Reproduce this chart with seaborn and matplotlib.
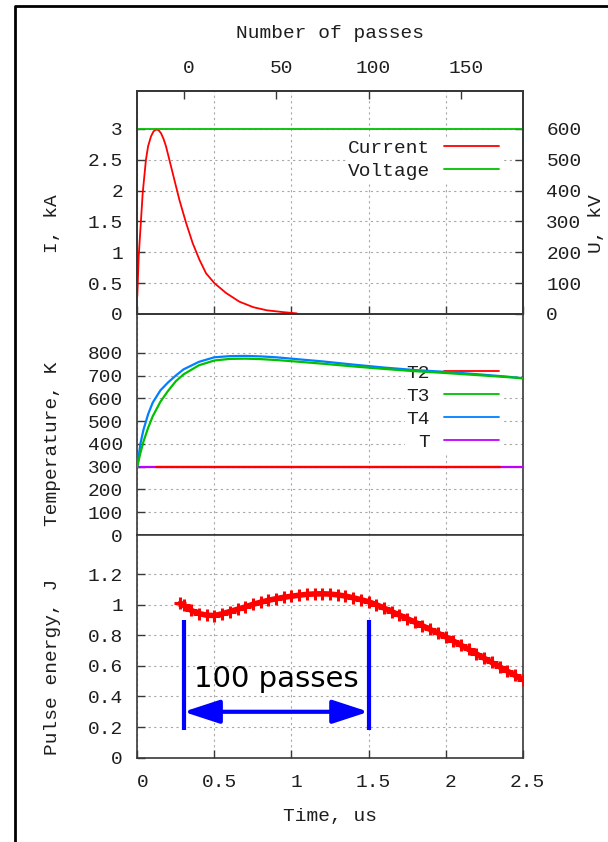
import matplotlib
matplotlib.use("Agg")
import matplotlib.pyplot as plt
from matplotlib.lines import Line2D
from matplotlib.patches import ArrowStyle
from matplotlib.transforms import ScaledTranslation
import seaborn as sns

# ---------------- data ----------------
# Discharge current, kA
current_time = [0.0, 0.009, 0.035, 0.056, 0.07, 0.089, 0.105, 0.121, 0.138, 0.154, 0.17,
                0.186, 0.205, 0.229, 0.273, 0.316, 0.359, 0.403, 0.446, 0.5, 0.576,
                0.662, 0.753, 0.84, 0.948, 1.035]
current_ka = [0.29, 0.93, 1.96, 2.50, 2.72, 2.88, 2.96, 2.99, 2.98, 2.93, 2.84,
              2.72, 2.53, 2.29, 1.85, 1.48, 1.15, 0.88, 0.66, 0.50, 0.34,
              0.20, 0.11, 0.06, 0.03, 0.01]

# Charging voltage, kV
voltage_time = [0.0, 2.5]
voltage_kv = [600, 600]

# Gas temperatures, K
temp_time = [0.0, 0.02, 0.04, 0.07, 0.1, 0.15, 0.2, 0.25, 0.3, 0.4, 0.5, 0.6,
             0.7, 0.8, 0.9, 1.0, 1.2, 1.4, 1.6, 1.8, 2.0, 2.2, 2.4, 2.5]
t3_k = [300, 360, 410, 470, 521, 585, 633, 675, 705, 745, 766, 773,
        774, 772, 768, 763, 752, 740, 729, 719, 711, 702, 693, 688]
t4_k = [300, 400, 462, 530, 581, 635, 670, 700, 727, 760, 780, 785,
        786, 784, 780, 774, 762, 748, 735, 724, 716, 706, 695, 688]
t2_time = [0.12, 2.35]
t2_k = [300, 300]
t_time = [0.0, 2.5]
t_k = [300, 300]

# Output pulse energy, J
energy_time = [0.28, 0.30, 0.35, 0.40, 0.45, 0.50, 0.55, 0.60, 0.65, 0.70, 0.75,
               0.80, 0.85, 0.90, 0.95, 1.00, 1.05, 1.10, 1.15, 1.20, 1.25, 1.30,
               1.35, 1.40, 1.45, 1.50, 1.55, 1.60, 1.65, 1.70, 1.75, 1.80, 1.85,
               1.90, 1.95, 2.00, 2.05, 2.10, 2.15, 2.20, 2.25, 2.30, 2.35, 2.40,
               2.45, 2.50]
energy_j = [1.010, 0.995, 0.962, 0.942, 0.931, 0.929, 0.940, 0.955, 0.970, 0.985, 1.002,
            1.016, 1.028, 1.039, 1.048, 1.055, 1.062, 1.067, 1.070, 1.071, 1.069, 1.064,
            1.056, 1.045, 1.033, 1.019, 1.000, 0.978, 0.955, 0.932, 0.909, 0.886, 0.862,
            0.838, 0.814, 0.790, 0.763, 0.735, 0.707, 0.678, 0.650, 0.622, 0.594, 0.566,
            0.538, 0.510]

# Round-trip timing: pass number n occurs at pass_origin_us + n * pass_period_us
pass_origin_us = 0.3
pass_period_us = 0.012
span_passes = 100

# Axis ticks
time_ticks = [0, 0.5, 1, 1.5, 2, 2.5]
pass_ticks = [0, 50, 100, 150]
current_ticks = [0, 0.5, 1, 1.5, 2, 2.5, 3]
voltage_ticks = [0, 100, 200, 300, 400, 500, 600]
temp_ticks = [0, 100, 200, 300, 400, 500, 600, 700, 800]
energy_ticks = [0, 0.2, 0.4, 0.6, 0.8, 1, 1.2]

# ---------------- style ----------------
sns.set_style("white")
plt.rcParams["font.family"] = ["Liberation Mono", "DejaVu Sans Mono"]
plt.rcParams["font.size"] = 14

ink = "#1e1e1e"
frame = "#383838"
red, green, blue, magenta = "#ff0000", "#00c000", "#0080ff", "#c000ff"
grid_kw = dict(color="#a8a8a8", linestyle=(0, (2.0, 3.0)), linewidth=0.8)

W, H = 608, 842
fig = plt.figure(figsize=(W / 100, H / 100), dpi=100)


def panel(top, bottom):
    return [137.3 / W, 1 - bottom / H, 385.4 / W, (bottom - top) / H]


ax1 = fig.add_axes(panel(90.7, 314))
ax2 = fig.add_axes(panel(314, 535))
ax3 = fig.add_axes(panel(535, 757.7))

for ax in (ax1, ax2, ax3):
    ax.set_xlim(0, 2.5)
    ax.set_xticks(time_ticks)
    ax.grid(True, **grid_kw)
    ax.set_axisbelow(True)
    for s in ax.spines.values():
        s.set_color(frame)
        s.set_linewidth(1.2)
    ax.tick_params(direction="in", length=5.5, width=1.0, color=frame,
                   labelcolor=ink, labelsize=14)
    ax.tick_params(axis="y", pad=10.3, left=True, right=False)

for ax in (ax1, ax2):
    ax.tick_params(axis="x", bottom=False, labelbottom=False)
ax3.tick_params(axis="x", bottom=True, pad=12)

# ---- panel 1: current & voltage ----
i_top = 3.62
ax1.set_ylim(0, i_top)
ax1.set_yticks(current_ticks)
ax1.set_yticklabels(["0", "0.5", "1", "1.5", "2", "2.5", "3"])
sns.lineplot(x=current_time, y=current_ka, ax=ax1, color=red, lw=1.3,
             estimator=None, sort=False, zorder=3)

axv = ax1.twinx()
axv.set_ylim(0, i_top * voltage_ticks[-1] / current_ticks[-1])
axv.set_yticks(voltage_ticks)
axv.tick_params(direction="in", length=5.5, width=1.0, color=frame,
                labelcolor=ink, labelsize=14, pad=17)
for s in axv.spines.values():
    s.set_color(frame)
    s.set_linewidth(1.2)
sns.lineplot(x=voltage_time, y=voltage_kv, ax=axv, color=green, lw=1.3,
             estimator=None, sort=False, zorder=3)
axv.set_ylabel("U, kV", fontsize=14, color=ink, rotation=90)
axv.yaxis.set_label_coords((597 - 137.3) / 385.4, 0.403)
axv.yaxis.label.set_verticalalignment("center")

axp = ax1.twiny()
axp.set_xlim((0 - pass_origin_us) / pass_period_us, (2.5 - pass_origin_us) / pass_period_us)
axp.set_xticks(pass_ticks)
axp.tick_params(direction="in", length=5.5, width=1.0, color=frame,
                labelcolor=ink, labelsize=14, pad=10)
for s in axp.spines.values():
    s.set_color(frame)
    s.set_linewidth(1.2)
axp.set_xlabel("Number of passes", fontsize=14, color=ink)
axp.xaxis.set_label_coords(0.5, 1 + (90.7 - 33) / 223.3)
axp.xaxis.label.set_verticalalignment("center")

leg_kw = dict(markerfirst=False, frameon=True, framealpha=1, fancybox=False,
              edgecolor="none", facecolor="white", borderpad=0.1, borderaxespad=0,
              handlelength=2.83, handletextpad=0.72, labelspacing=0.28, fontsize=14)
h1 = [Line2D([], [], color=red, lw=1.3), Line2D([], [], color=green, lw=1.3)]
leg1 = ax1.legend(h1, ["Current", "Voltage"], loc="upper right",
                  bbox_to_anchor=((501 - 137.3) / 385.4, 0.791), **leg_kw)
leg1.set_zorder(2.5)
for t in leg1.get_texts():
    t.set_color(ink)

ax1.set_ylabel("I, kA", fontsize=14, color=ink)

# ---- panel 2: temperatures ----
ax2.set_ylim(0, 970)
ax2.set_yticks(temp_ticks)
sns.lineplot(x=t_time, y=t_k, ax=ax2, color=magenta, lw=1.6,
             estimator=None, sort=False, zorder=3)
sns.lineplot(x=t2_time, y=t2_k, ax=ax2, color=red, lw=1.6,
             estimator=None, sort=False, zorder=3)
sns.lineplot(x=temp_time, y=t4_k, ax=ax2, color=blue, lw=1.6,
             estimator=None, sort=False, zorder=3)
sns.lineplot(x=temp_time, y=t3_k, ax=ax2, color=green, lw=1.6,
             estimator=None, sort=False, zorder=3)
h2 = [Line2D([], [], color=c, lw=1.3) for c in (red, green, blue, magenta)]
leg2 = ax2.legend(h2, ["T2", "T3", "T4", "T"], loc="upper right",
                  bbox_to_anchor=((501 - 137.3) / 385.4, 0.781), **leg_kw)
leg2.set_zorder(2.5)
for t in leg2.get_texts():
    t.set_color(ink)
ax2.set_ylabel("Temperature, K", fontsize=14, color=ink)

# ---- panel 3: pulse energy ----
ax3.set_ylim(0, 1.455)
ax3.set_yticks(energy_ticks)
ax3.set_yticklabels(["0", "0.2", "0.4", "0.6", "0.8", "1", "1.2"])
ax3.set_xticklabels(["0", "0.5", "1", "1.5", "2", "2.5"])
sns.lineplot(x=energy_time, y=energy_j, ax=ax3, color=red, lw=4.0,
             marker="+", markersize=8, markeredgewidth=2.2, markeredgecolor=red,
             estimator=None, sort=False, zorder=3)
ax3.set_ylabel("Pulse energy, J", fontsize=14, color=ink)
ax3.set_xlabel("Time, us", fontsize=14, color=ink)

# span of 100 round trips
span_start = pass_origin_us
span_end = pass_origin_us + span_passes * pass_period_us
bar_low, bar_high, arrow_y = 0.18, 0.9, 0.3
ax3.vlines([span_start, span_end], bar_low, bar_high, color="#0000ff", lw=3, zorder=4)
ax3.annotate("", xy=(span_start, arrow_y), xytext=(span_end, arrow_y),
             arrowprops=dict(arrowstyle=ArrowStyle("<|-|>", head_length=1.1, head_width=0.36),
                             color="#0000ff", lw=3, shrinkA=0, shrinkB=0,
                             mutation_scale=20),
             zorder=4)
ax3.text((span_start + span_end) / 2, 0.462, f"{span_passes} passes",
         family="DejaVu Sans", fontsize=21, color="black",
         ha="center", va="baseline", zorder=4)

# y-label placement, shared across panels
for ax, yc in ((ax1, 0.403), (ax2, 0.413), (ax3, 0.409)):
    ax.yaxis.set_label_coords((53 - 137.3) / 385.4, yc)
    ax.yaxis.label.set_verticalalignment("center")

ax3.xaxis.set_label_coords(0.5, -(816.7 - 757.7) / 222.7)
ax3.xaxis.label.set_verticalalignment("center")

# nudge horizontal tick labels slightly right
shift = ScaledTranslation(0.05, 0, fig.dpi_scale_trans)
for lab in ax3.get_xticklabels() + axp.get_xticklabels():
    lab.set_transform(lab.get_transform() + shift)

# outer frame
fig.add_artist(Line2D([14.5 / W, 14.5 / W, 1.0], [0.0, 1 - 5.5 / H, 1 - 5.5 / H],
                      transform=fig.transFigure, color="black", lw=2.0))

fig.savefig("out.png", dpi=100, facecolor="white")
